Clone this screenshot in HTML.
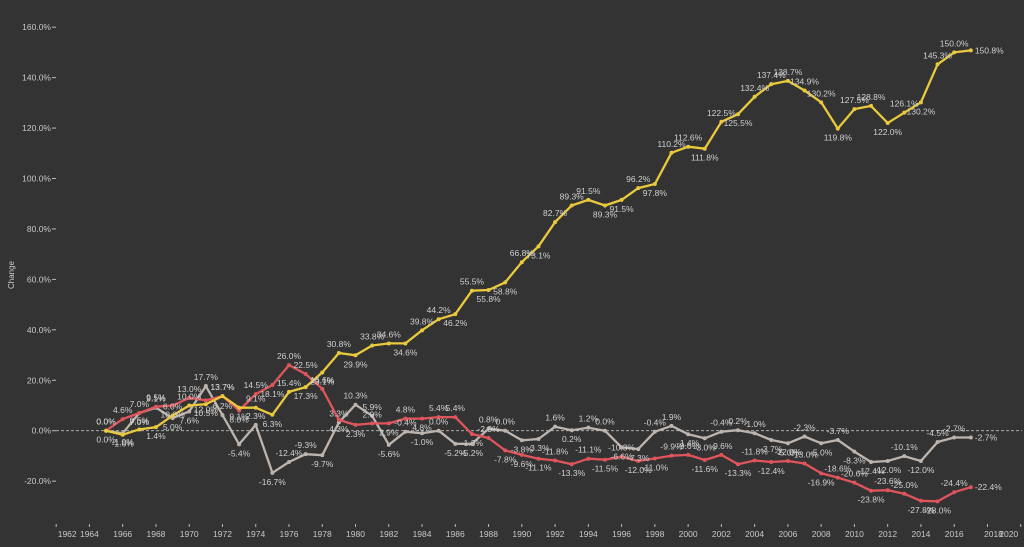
<!DOCTYPE html>
<html><head><meta charset="utf-8"><style>
html,body{margin:0;padding:0;background:#333333;}
svg{display:block;font-family:"Liberation Sans",sans-serif;}
</style></head><body>
<svg id="chart" width="1024" height="547" viewBox="0 0 1024 547">
<rect width="1024" height="547" fill="#333333"/>
<text x="14" y="275" transform="rotate(-90 14 275)" text-anchor="middle" font-size="8" fill="#cfcfcf">Change</text>
<g id="axes"></g>
<g id="series"></g>
<g id="labels"></g>
</svg>
<script>
const years = [1965,1966,1967,1968,1969,1970,1971,1972,1973,1974,1975,1976,1977,1978,1979,1980,1981,1982,1983,1984,1985,1986,1987,1988,1989,1990,1991,1992,1993,1994,1995,1996,1997,1998,1999,2000,2001,2002,2003,2004,2005,2006,2007,2008,2009,2010,2011,2012,2013,2014,2015,2016,2017];
const yellowValues = [0,-1.6,0.5,1.4,6,10,10.5,13.7,9.1,9.1,6.3,15.4,17.3,23.1,30.8,29.9,33.8,34.6,34.6,39.8,44.2,46.2,55.5,55.8,58.8,66.8,73.1,82.7,89.3,91.5,89.3,91.5,96.2,97.8,110.2,112.6,111.8,122.5,125.5,132.4,137.4,138.7,134.9,130.2,119.8,127.5,128.8,122.0,126.1,130.2,145.3,150.0,150.8];
const redValues = [0,4.6,7,9.5,10,13.0,12,13.7,8,14.5,18.1,26.0,22.5,16.6,4.3,2.3,2.9,2.9,4.8,4.8,5.4,5.4,-1.3,-2.9,-7.8,-9.6,-11.1,-11.8,-13.3,-11.1,-11.5,-10.3,-12.0,-11.0,-9.9,-9.6,-11.6,-9.6,-13.3,-11.8,-12.4,-12.0,-13.0,-16.9,-18.6,-20.6,-23.8,-23.6,-25.0,-27.8,-28.0,-24.4,-22.4];
const grayValues = [0,-1.0,7,9.1,5,7.6,17.7,6.2,-5.4,2.3,-16.7,-12.4,-9.3,-9.7,3.3,10.3,5.9,-5.6,-0.4,-1.0,0.0,-5.2,-5.2,0.8,0.0,-3.8,-3.3,1.6,0.2,1.2,0.0,-6.6,-7.3,-0.4,1.9,-1.4,-3.0,-0.4,0.2,-1.0,-3.7,-5.0,-2.3,-5.0,-3.7,-8.3,-12.4,-12.0,-10.1,-12.0,-4.5,-2.7,-2.7];
const yTicks = [-20,0,20,40,60,80,100,120,140,160];
const xTicks = [1962,1964,1966,1968,1970,1972,1974,1976,1978,1980,1982,1984,1986,1988,1990,1992,1994,1996,1998,2000,2002,2004,2006,2008,2010,2012,2014,2016,2018,2020];

const NS="http://www.w3.org/2000/svg";
const X = y => 122.7 + (y-1966)*16.63;
const Y = v => 430.7 - v*2.522;
function mk(tag, attrs, parent){const e=document.createElementNS(NS,tag);for(const k in attrs)e.setAttribute(k,attrs[k]);parent.appendChild(e);return e;}
const axes=document.getElementById('axes'), ser=document.getElementById('series'), lab=document.getElementById('labels');

yTicks.forEach(t=>{
  const g=mk('g',{},axes);
  
  
  mk('line',{x1:52,x2:56,y1:Y(t),y2:Y(t),stroke:'#bbb','stroke-width':1},g);
  const tx=mk('text',{x:51,y:Y(t)+3,'text-anchor':'end','font-size':'8.5',fill:'#c8c8c8'},g);
  tx.textContent=t.toFixed(1)+'%';
});
const zl=mk('line',{x1:56,x2:1022,y1:Y(0),y2:Y(0),stroke:'#bdbdbd','stroke-width':0.8,'stroke-dasharray':'3,2'},axes);


xTicks.forEach(t=>{
  const g=mk('g',{},axes);
  
  
  mk('line',{x1:X(t),x2:X(t),y1:524,y2:527,stroke:'#bbb','stroke-width':1},g);
  let lx=X(t);
  if(t===1962)lx+=11; if(t===2018)lx+=6; if(t===2020)lx-=12;
  const tx=mk('text',{x:lx,y:537,'text-anchor':'middle','font-size':'8.5',fill:'#c8c8c8'},g);
  tx.textContent=t;
});

function drawSeries(vals,color,name){
  const g=mk('g',{},ser);
  
  
  const pts=years.map((y,i)=>X(y).toFixed(1)+','+Y(vals[i]).toFixed(1)).join(' ');
  const pl=mk('polyline',{points:pts,fill:'none',stroke:color,'stroke-width':2.3,'stroke-linejoin':'round'},g);
  
  
  years.forEach((y,i)=>{
    const c=mk('circle',{cx:X(y),cy:Y(vals[i]),r:2,fill:color},g);
    
    
    const prev=i>0?vals[i-1]:vals[i], next=i<vals.length-1?vals[i+1]:vals[i];
    const above = vals[i] >= (prev+next)/2;
    const last = i===vals.length-1;
    const t=mk('text',{x:last?X(y)+4:X(y),y:last?Y(vals[i])+3:(above?Y(vals[i])-6:Y(vals[i])+12),'text-anchor':last?'start':'middle','font-size':'8.5',fill:'#d0d0d0'},lab);
    
    
    t.textContent=vals[i].toFixed(1)+'%';
  });
}
drawSeries(grayValues,'#bdb4ae','gray');
drawSeries(redValues,'#e0555c','red');
drawSeries(yellowValues,'#e9c93d','yellow');
</script>
</body></html>
